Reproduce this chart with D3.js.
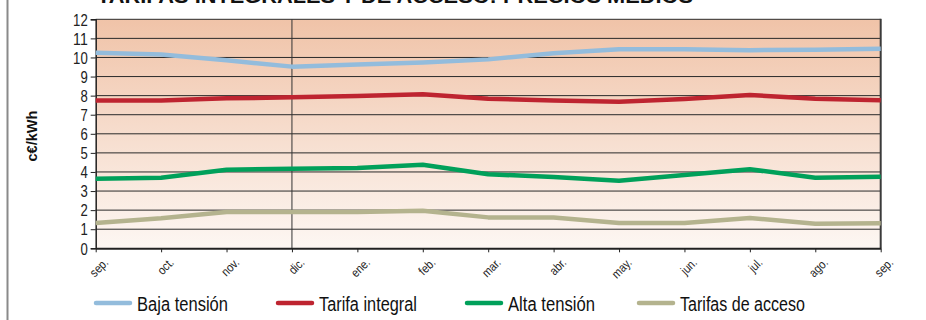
<!DOCTYPE html>
<html>
<head>
<meta charset="utf-8">
<script src="https://cdn.jsdelivr.net/npm/d3@7"></script>
<style>
  html, body { margin: 0; padding: 0; background: #fff; }
  svg { display: block; }
</style>
</head>
<body>
<svg id="chart" width="926" height="320"></svg>
<script>
// Months (Sept. to Sept.)
const months = ["sep.", "oct.", "nov.", "dic.", "ene.", "feb.", "mar.", "abr.", "may.", "jun.", "jul.", "ago.", "sep."];

// Average prices, c€/kWh
const bajaTension     = [10.25, 10.15, 9.85, 9.52, 9.63, 9.73, 9.9, 10.22, 10.43, 10.43, 10.38, 10.41, 10.46];
const tarifaIntegral  = [7.74, 7.75, 7.86, 7.91, 7.98, 8.07, 7.84, 7.74, 7.68, 7.82, 8.03, 7.84, 7.76];
const altaTension     = [3.65, 3.7, 4.12, 4.17, 4.21, 4.38, 3.88, 3.74, 3.54, 3.84, 4.14, 3.7, 3.75];
const tarifasAcceso   = [1.33, 1.57, 1.9, 1.9, 1.9, 1.97, 1.62, 1.62, 1.33, 1.33, 1.59, 1.29, 1.31];

const yTicks = [0, 1, 2, 3, 4, 5, 6, 7, 8, 9, 10, 11, 12];

const seriesNames  = ["Baja tensión", "Tarifa integral", "Alta tensión", "Tarifas de acceso"];
const seriesColors = ["#93bcdc", "#be2430", "#00a05a", "#b4b38e"];
const seriesData   = [bajaTension, tarifaIntegral, altaTension, tarifasAcceso];

const svg = d3.select("#chart");
const sans = "'Liberation Sans', Arial, sans-serif";

const plot = { left: 95.7, right: 880.7, top: 19.3, bottom: 248.3 };

const x = d3.scalePoint().domain(d3.range(months.length)).range([plot.left, plot.right]);
const y = d3.scaleLinear().domain([0, 12]).range([plot.bottom, plot.top]);

// Page frame rule on the left
svg.append("line")
  .attr("x1", 7.5).attr("x2", 7.5).attr("y1", 0).attr("y2", 320)
  .attr("stroke", "#8a8a8a").attr("stroke-width", 2);

// Title (runs off the top edge)
svg.append("text")
  .attr("x", 97).attr("y", 3)
  .attr("font-family", sans)
  .attr("font-weight", "bold").attr("font-size", 21)
  .attr("textLength", 596).attr("lengthAdjust", "spacingAndGlyphs")
  .attr("fill", "#111")
  .text("TARIFAS INTEGRALES Y DE ACCESO: PRECIOS MEDIOS");

// Plot background gradient
const defs = svg.append("defs");
const grad = defs.append("linearGradient").attr("id", "bg").attr("x1", 0).attr("x2", 0).attr("y1", 0).attr("y2", 1);
grad.append("stop").attr("offset", "0%").attr("stop-color", "#f0c3a8");
grad.append("stop").attr("offset", "100%").attr("stop-color", "#fdf7f3");

svg.append("rect")
  .attr("x", plot.left).attr("y", plot.top)
  .attr("width", plot.right - plot.left).attr("height", plot.bottom - plot.top)
  .attr("fill", "url(#bg)");

// Horizontal gridlines
svg.append("g")
  .selectAll("line")
  .data(yTicks.filter(d => d > 0))
  .join("line")
  .attr("x1", plot.left).attr("x2", plot.right)
  .attr("y1", d => y(d)).attr("y2", d => y(d))
  .attr("stroke", "#2a2a2a").attr("stroke-width", 1);

// Vertical divider at December
svg.append("line")
  .attr("x1", x(3)).attr("x2", x(3))
  .attr("y1", plot.top).attr("y2", plot.bottom)
  .attr("stroke", "#333").attr("stroke-width", 1);

// Right border
svg.append("line")
  .attr("x1", plot.right).attr("x2", plot.right)
  .attr("y1", plot.top - 0.5).attr("y2", plot.bottom)
  .attr("stroke", "#3a3a3a").attr("stroke-width", 2);

// Y axis
const yAxis = svg.append("g")
  .attr("transform", `translate(${plot.left},0)`)
  .call(d3.axisLeft(y).tickValues(yTicks).tickFormat(d3.format("d")).tickSize(5).tickPadding(3));
yAxis.select(".domain").attr("stroke", "#222").attr("stroke-width", 1.5);
yAxis.selectAll(".tick line").attr("stroke", "#222");
yAxis.selectAll("text")
  .attr("font-family", sans).attr("font-size", 16).attr("fill", "#222")
  .attr("dy", "0.36em")
  .attr("textLength", d => String(d).length * 7.3)
  .attr("lengthAdjust", "spacingAndGlyphs");

// X axis
const xAxis = svg.append("g")
  .attr("transform", `translate(0,${plot.bottom})`)
  .call(d3.axisBottom(x).tickFormat(i => months[i]).tickSize(4).tickSizeOuter(0));
xAxis.select(".domain").attr("stroke", "#222").attr("stroke-width", 2);
xAxis.selectAll(".tick line").attr("stroke", "#222");
xAxis.selectAll("text")
  .attr("font-family", sans).attr("font-size", 12.5).attr("fill", "#222")
  .attr("text-anchor", "end")
  .attr("x", 0).attr("y", 0).attr("dy", 0)
  .attr("transform", "translate(13,15) rotate(-45) scale(0.86,1)");

// Y axis title
svg.append("text")
  .attr("transform", "translate(37,136) rotate(-90)")
  .attr("text-anchor", "middle")
  .attr("font-family", sans)
  .attr("font-weight", "bold").attr("font-size", 14).attr("fill", "#111")
  .attr("textLength", 51).attr("lengthAdjust", "spacingAndGlyphs")
  .text("c€/kWh");

// Series lines
const line = d3.line().x((d, i) => x(i)).y(d => y(d));
svg.append("g")
  .selectAll("path")
  .data(seriesData)
  .join("path")
  .attr("d", line)
  .attr("fill", "none")
  .attr("stroke", (d, i) => seriesColors[i])
  .attr("stroke-width", 4.5)
  .attr("stroke-linejoin", "round");

// Legend
const legendX = [96, 278, 467, 639];
const legendTextW = [91, 98, 87, 125];
const legend = svg.append("g")
  .selectAll("g")
  .data(seriesNames)
  .join("g")
  .attr("transform", (d, i) => `translate(${legendX[i]},303)`);
legend.append("line")
  .attr("x1", 0).attr("x2", 34).attr("y1", 0).attr("y2", 0)
  .attr("stroke", (d, i) => seriesColors[i])
  .attr("stroke-width", 4.5).attr("stroke-linecap", "round");
legend.append("text")
  .attr("x", 41).attr("y", 7.5)
  .attr("font-family", sans).attr("font-size", 19.5).attr("fill", "#111")
  .attr("textLength", (d, i) => legendTextW[i]).attr("lengthAdjust", "spacingAndGlyphs")
  .text(d => d);
</script>
</body>
</html>
